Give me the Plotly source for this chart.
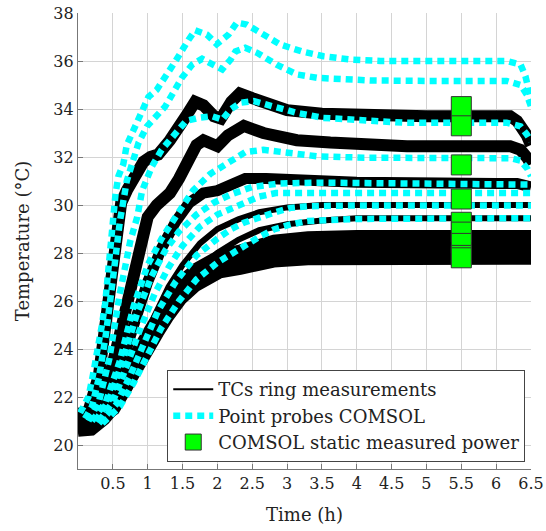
import plotly.graph_objects as go

# ---------------- thermocouple ring measurements (black) ----------------
tc1_t = [0.0, 0.15, 0.3, 0.4, 0.5, 0.56, 0.62, 0.7, 0.82, 0.94, 1.04, 1.15, 1.32, 1.45, 1.55, 1.68, 1.8, 1.95, 2.05, 2.2, 2.32, 2.5, 2.8, 3.0, 3.5, 4.0, 5.0, 6.2, 6.3, 6.44, 6.5]
tc1_v = [21.3, 21.4, 22.9, 25.1, 27.6, 29.2, 30.1, 30.6, 31.2, 31.8, 32.0, 32.1, 32.7, 33.2, 33.7, 34.3, 34.15, 33.7, 33.6, 34.3, 34.65, 34.45, 34.1, 33.95, 33.8, 33.75, 33.7, 33.7, 33.5, 32.9, 32.5]

tc2_t = [0.0, 0.15, 0.3, 0.45, 0.6, 0.75, 0.9, 1.0, 1.13, 1.32, 1.45, 1.56, 1.7, 1.8, 2.0, 2.15, 2.38, 2.66, 3.14, 3.62, 4.19, 4.72, 6.2, 6.35, 6.45, 6.5]
tc2_v = [21.1, 21.1, 21.5, 22.8, 24.6, 26.6, 28.5, 29.5, 30.0, 30.5, 31.1, 31.7, 32.5, 32.7, 32.45, 32.9, 33.3, 33.0, 32.7, 32.6, 32.5, 32.45, 32.45, 32.3, 31.95, 31.7]

tc3_t = [0.0, 0.2, 0.4, 0.6, 0.8, 1.0, 1.2, 1.4, 1.6, 1.8, 2.0, 2.2, 2.4, 2.7, 3.0, 3.5, 4.0, 6.0, 6.3, 6.5]
tc3_v = [21.0, 21.0, 21.6, 23.1, 25.0, 26.8, 28.2, 29.3, 30.1, 30.5, 30.6, 30.9, 31.1, 31.1, 31.05, 31.0, 30.95, 30.9, 30.9, 30.75]

tc4_t = [0.0, 0.3, 0.5, 0.7, 0.9, 1.1, 1.3, 1.5, 1.75, 2.0, 2.3, 2.6, 3.0, 3.5, 6.5]
tc4_v = [20.95, 20.95, 21.4, 22.5, 24.0, 25.4, 26.6, 27.5, 28.4, 29.0, 29.4, 29.7, 29.9, 30.0, 30.0]

tc5_t = [0.0, 0.3, 0.55, 0.75, 0.95, 1.15, 1.4, 1.7, 2.0, 2.3, 2.6, 3.0, 3.5, 4.0, 6.5]
tc5_v = [20.9, 20.9, 21.4, 22.4, 23.7, 24.9, 26.1, 27.2, 28.0, 28.55, 28.95, 29.2, 29.35, 29.45, 29.45]

tc6_t = [0.0, 0.2, 0.39, 0.55, 0.68, 0.8, 0.92, 1.04, 1.16, 1.3, 1.49, 1.7, 2.04, 2.33, 2.81, 3.3, 4.0, 6.5]
tc6_v = [20.85, 20.9, 21.7, 22.4, 23.05, 23.75, 24.4, 24.95, 25.5, 26.15, 26.9, 27.4, 27.95, 28.15, 28.55, 28.7, 28.75, 28.75]

tc7_t = [0.0, 0.2, 0.39, 0.55, 0.68, 0.8, 0.92, 1.04, 1.16, 1.3, 1.49, 1.7, 2.04, 2.33, 2.81, 3.3, 4.0, 6.5]
tc7_v = [20.75, 20.8, 21.45, 22.1, 22.75, 23.45, 24.1, 24.65, 25.2, 25.85, 26.6, 27.1, 27.65, 27.85, 28.2, 28.33, 28.35, 28.35]

tc8_t = [0.0, 0.2, 0.39, 0.55, 0.68, 0.8, 0.92, 1.04, 1.16, 1.3, 1.49, 1.7, 2.04, 2.33, 2.81, 3.3, 4.0, 6.5]
tc8_v = [20.65, 20.7, 21.3, 21.85, 22.5, 23.15, 23.8, 24.35, 24.9, 25.55, 26.3, 26.85, 27.4, 27.55, 27.9, 28.0, 28.02, 28.02]

tc9_t = [0.0, 0.2, 0.39, 0.55, 0.68, 0.8, 0.92, 1.04, 1.16, 1.3, 1.49, 1.7, 2.04, 2.33, 2.81, 3.3, 4.0, 6.5]
tc9_v = [20.55, 20.6, 21.05, 21.6, 22.25, 22.9, 23.55, 24.1, 24.65, 25.3, 26.05, 26.6, 27.15, 27.3, 27.6, 27.7, 27.72, 27.72]

# ---------------- COMSOL point probes (cyan) ----------------
pp1_t = [0.03, 0.15, 0.22, 0.27, 0.30, 0.34, 0.39, 0.42, 0.44, 0.46, 0.49, 0.51, 0.54, 0.58, 0.65, 0.70, 0.80, 0.92, 1.01, 1.13, 1.30, 1.40, 1.59, 1.68, 1.85, 1.99, 2.16, 2.28, 2.42, 2.59, 2.90, 3.21, 3.52, 3.91, 4.34, 5.0, 6.15, 6.35, 6.42, 6.49, 6.5]
pp1_v = [21.34, 22.0, 23.0, 24.0, 24.3, 24.95, 25.9, 26.9, 27.7, 28.4, 29.1, 29.8, 30.5, 31.2, 31.7, 32.5, 33.2, 34.0, 34.5, 34.8, 35.5, 36.0, 36.9, 37.28, 37.1, 36.7, 37.1, 37.6, 37.52, 37.24, 36.69, 36.4, 36.2, 36.06, 36.0, 36.0, 36.0, 35.85, 35.37, 34.53, 34.3]

pp2_t = [0.1, 0.2, 0.3, 0.4, 0.5, 0.6, 0.7, 0.8, 0.87, 0.99, 1.25, 1.49, 1.64, 1.78, 1.92, 2.07, 2.19, 2.26, 2.4, 2.57, 2.85, 3.14, 3.43, 3.76, 4.19, 5.0, 6.15, 6.35, 6.44, 6.5]
pp2_v = [21.1, 21.6, 22.8, 24.6, 26.9, 29.3, 31.0, 32.0, 32.6, 33.28, 34.1, 35.3, 35.85, 36.09, 35.85, 35.65, 36.06, 36.4, 36.55, 36.34, 35.85, 35.44, 35.3, 35.23, 35.19, 35.17, 35.17, 35.0, 34.6, 34.1]

pp3_t = [0.15, 0.3, 0.45, 0.6, 0.75, 0.85, 0.92, 1.06, 1.2, 1.4, 1.55, 1.73, 1.92, 2.07, 2.19, 2.33, 2.52, 2.81, 3.14, 3.52, 4.1, 4.67, 6.15, 6.35, 6.44, 6.5]
pp3_v = [21.0, 21.8, 23.6, 26.3, 28.5, 29.5, 30.6, 31.6, 32.3, 33.0, 33.5, 33.63, 33.7, 33.56, 33.98, 34.26, 34.33, 34.1, 33.84, 33.63, 33.5, 33.43, 33.43, 33.28, 32.94, 32.66]

pp4_t = [0.2, 0.4, 0.6, 0.8, 1.0, 1.2, 1.4, 1.65, 1.9, 2.1, 2.25, 2.4, 2.66, 3.0, 3.43, 4.1, 6.2, 6.35, 6.45, 6.5]
pp4_v = [21.0, 21.8, 23.5, 25.8, 27.5, 28.6, 29.5, 30.6, 31.3, 31.65, 31.95, 32.2, 32.3, 32.17, 32.03, 31.97, 31.95, 31.85, 31.5, 31.2]

pp5_t = [0.25, 0.45, 0.65, 0.85, 1.05, 1.25, 1.45, 1.7, 1.95, 2.2, 2.5, 2.9, 3.5, 4.5, 6.5]
pp5_v = [21.0, 21.9, 23.6, 25.5, 27.0, 28.1, 28.9, 29.6, 30.1, 30.45, 30.75, 30.9, 30.93, 30.9, 30.85]

pp6_t = [0.3, 0.5, 0.7, 0.9, 1.1, 1.3, 1.5, 1.75, 2.0, 2.2, 2.4, 2.6, 2.84, 3.5, 6.5]
pp6_v = [21.0, 21.8, 23.3, 24.9, 26.3, 27.4, 28.3, 29.1, 29.6, 29.85, 30.1, 30.35, 30.5, 30.5, 30.5]

pp7_t = [0.3, 0.55, 0.75, 0.95, 1.15, 1.4, 1.7, 2.0, 2.2, 2.38, 2.62, 2.81, 3.05, 3.29, 4.0, 6.5]
pp7_v = [20.9, 21.7, 22.9, 24.3, 25.6, 26.8, 27.9, 28.6, 29.0, 29.26, 29.53, 29.68, 29.88, 29.95, 29.98, 29.98]

pp8_t = [0.35, 0.6, 0.8, 1.0, 1.2, 1.45, 1.7, 2.0, 2.2, 2.38, 2.62, 2.81, 3.05, 3.29, 4.0, 6.5]
pp8_v = [20.9, 21.6, 22.6, 23.8, 24.9, 26.0, 26.9, 27.6, 28.0, 28.28, 28.7, 28.98, 29.19, 29.33, 29.42, 29.45]

# ---------------- COMSOL static result with measured power ----------------
static_t = [5.5, 5.5, 5.5, 5.5, 5.5, 5.5, 5.5, 5.5, 5.5]
static_v = [34.1, 33.3, 31.67, 30.25, 29.28, 28.87, 28.4, 27.9, 27.8]

x_ticks = [0.5, 1, 1.5, 2, 2.5, 3, 3.5, 4, 4.5, 5, 5.5, 6, 6.5]
y_ticks = [20, 22, 24, 26, 28, 30, 32, 34, 36, 38]

# band widths (px) stand in for the sensor noise spread of each channel
tc_series = [(tc1_t, tc1_v, 12), (tc2_t, tc2_v, 12), (tc3_t, tc3_v, 11),
             (tc4_t, tc4_v, 6), (tc5_t, tc5_v, 6), (tc6_t, tc6_v, 10),
             (tc7_t, tc7_v, 10), (tc8_t, tc8_v, 10), (tc9_t, tc9_v, 10)]
pp_series = [(pp1_t, pp1_v), (pp2_t, pp2_v), (pp3_t, pp3_v), (pp4_t, pp4_v),
             (pp5_t, pp5_v), (pp6_t, pp6_v), (pp7_t, pp7_v), (pp8_t, pp8_v)]

FONT = "DejaVu Serif"
TEXT = "#222222"
CYAN = "#00FFFF"

fig = go.Figure()

# legend key for the measurements (thin line, the traces themselves are wide noisy bands)
fig.add_trace(go.Scatter(x=[None], y=[None], mode="lines", name="TCs ring measurements",
                         line=dict(color="black", width=2.2), showlegend=True))

for t, v, w in tc_series:
    fig.add_trace(go.Scatter(x=t, y=v, mode="lines", showlegend=False, hoverinfo="skip",
                             line=dict(color="black", width=w)))

for i, (t, v) in enumerate(pp_series):
    fig.add_trace(go.Scatter(x=t, y=v, mode="lines", name="Point probes COMSOL",
                             showlegend=(i == 0),
                             line=dict(color=CYAN, width=6.5, dash="7px,5px")))

fig.add_trace(go.Scatter(x=static_t, y=static_v, mode="markers", name="COMSOL static measured power",
                         marker=dict(symbol="square", size=20, color="#00FF00",
                                     line=dict(color="#333333", width=1))))

fig.update_layout(
    width=546, height=531,
    margin=dict(l=78, r=15, t=13, b=62, autoexpand=False),
    paper_bgcolor="white", plot_bgcolor="white",
    font=dict(family=FONT, size=16, color=TEXT),
    showlegend=True,
    legend=dict(x=0.197, y=0.217, xanchor="left", yanchor="top",
                bgcolor="white", bordercolor="#444444", borderwidth=1,
                font=dict(family=FONT, size=18, color=TEXT),
                itemwidth=40, tracegroupgap=0),
)

fig.update_xaxes(range=[0, 6.5], tickvals=x_ticks, ticktext=[f"{t:g}" for t in x_ticks],
                 automargin=False,
                 showgrid=True, gridcolor="#d4d4d4", gridwidth=1,
                 showline=True, linecolor="#777777", linewidth=1.3,
                 ticks="inside", ticklen=5, tickcolor="#777777",
                 zeroline=False, tickfont=dict(family=FONT, size=16),
                 title=dict(text="Time (h)", font=dict(family=FONT, size=18), standoff=16))
fig.update_yaxes(range=[19, 38], tickvals=y_ticks,
                 automargin=False,
                 showgrid=True, gridcolor="#d4d4d4", gridwidth=1,
                 showline=True, linecolor="#777777", linewidth=1.3,
                 ticks="inside", ticklen=5, tickcolor="#777777",
                 zeroline=False, tickfont=dict(family=FONT, size=16),
                 title=dict(text="Temperature (°C)", font=dict(family=FONT, size=18), standoff=18))

fig.write_html("out.html")
